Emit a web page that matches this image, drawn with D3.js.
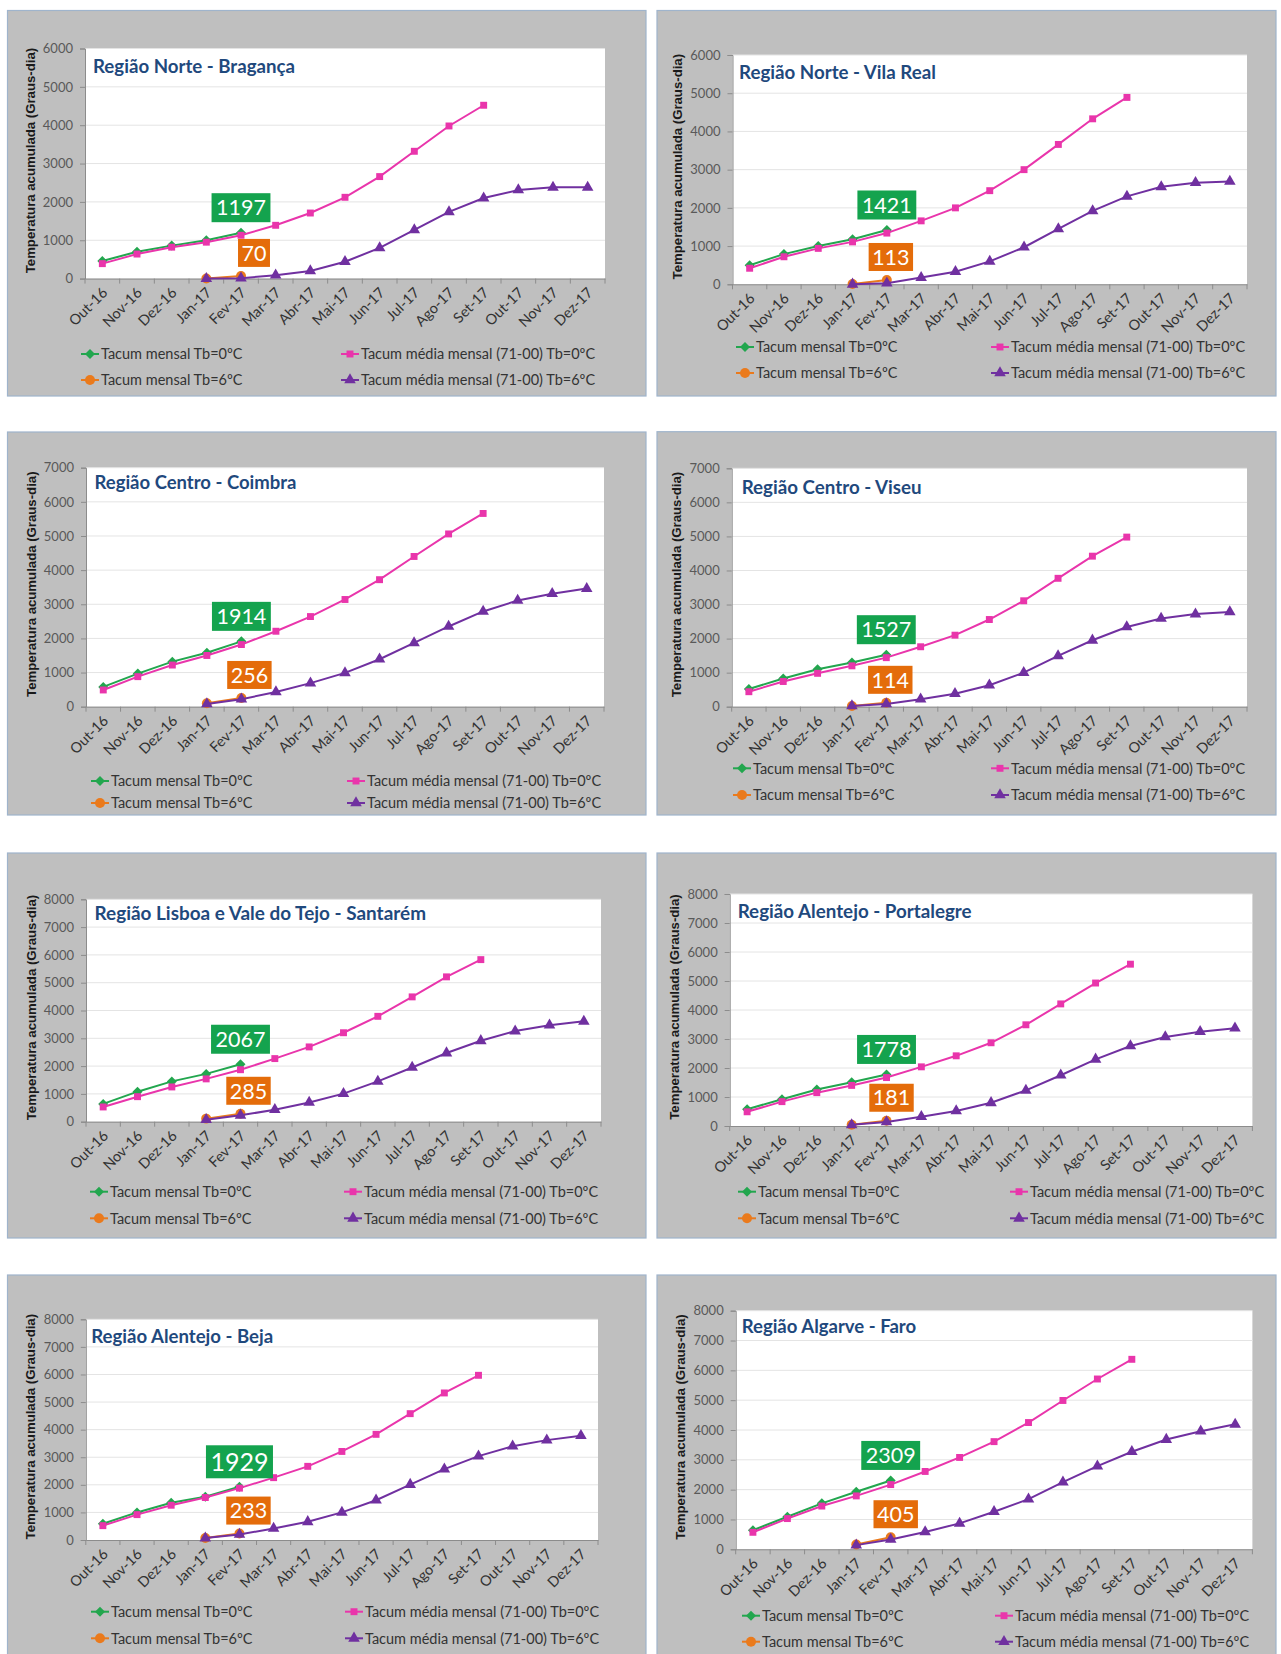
<!DOCTYPE html>
<html><head><meta charset="utf-8">
<script src="https://cdn.jsdelivr.net/npm/d3@7"></script>
<style>body{margin:0;background:#fff} svg{display:block}</style>
</head><body>
<svg id="c" width="1281" height="1654"></svg>
<script>
// ---------------- DATA ----------------
const months = ["Out-16","Nov-16","Dez-16","Jan-17","Fev-17","Mar-17","Abr-17","Mai-17","Jun-17","Jul-17","Ago-17","Set-17","Out-17","Nov-17","Dez-17"];
const regions = ["Região Norte - Bragança","Região Norte - Vila Real","Região Centro - Coimbra","Região Centro - Viseu","Região Lisboa e Vale do Tejo - Santarém","Região Alentejo - Portalegre","Região Alentejo - Beja","Região Algarve - Faro"];
const yMax = [6000,6000,7000,7000,8000,8000,8000,8000];
const yTickStep = 1000;
// Tacum mensal Tb=0ºC  (Out-16 .. Fev-17)
const tacumTb0 = [
  [460,700,860,1000,1197],
  [500,790,1000,1180,1421],
  [580,970,1320,1580,1914],
  [520,830,1100,1300,1527],
  [640,1080,1450,1720,2067],
  [580,920,1260,1510,1778],
  [590,1000,1350,1570,1929],
  [640,1090,1540,1930,2309]
];
// Tacum mensal Tb=6ºC  (Jan-17 .. Fev-17)
const tacumTb6 = [
  [5,70],[10,113],[100,256],[20,114],[110,285],[40,181],[70,233],[160,405]
];
// Tacum média mensal (71-00) Tb=0ºC  (Out-16 .. Set-17)
const mediaTb0 = [
  [390,640,820,950,1130,1390,1710,2120,2660,3320,3980,4520],
  [420,720,940,1110,1340,1660,2000,2450,3000,3660,4330,4890],
  [490,880,1220,1500,1820,2210,2640,3140,3720,4400,5060,5660],
  [440,740,980,1200,1440,1760,2100,2560,3110,3770,4420,4980],
  [530,900,1250,1540,1870,2270,2690,3200,3790,4490,5210,5830],
  [490,840,1150,1400,1670,2040,2420,2870,3490,4210,4930,5580],
  [520,920,1260,1540,1880,2260,2670,3210,3830,4580,5330,5970],
  [570,1030,1450,1790,2170,2610,3080,3610,4250,4990,5710,6370]
];
// Tacum média mensal (71-00) Tb=6ºC  (Jan-17 .. Dez-17)
const mediaTb6 = [
  [0,10,90,200,440,800,1270,1740,2100,2310,2380,2380],
  [0,30,175,330,600,970,1450,1920,2300,2550,2660,2690],
  [80,220,430,690,990,1390,1870,2350,2790,3110,3310,3460],
  [20,80,220,380,630,1000,1490,1950,2340,2590,2720,2780],
  [70,230,430,690,1010,1450,1950,2470,2910,3260,3470,3610],
  [40,140,320,520,800,1230,1750,2300,2760,3070,3250,3370],
  [70,200,420,660,1000,1440,2010,2570,3040,3400,3620,3780],
  [140,330,580,870,1260,1680,2250,2790,3270,3680,3960,4190]
];
const seriesStart = {tb0:0, tb6:3, m0:0, m6:3};
const legendLabels = ["Tacum mensal Tb=0ºC","Tacum média mensal (71-00) Tb=0ºC","Tacum mensal Tb=6ºC","Tacum média mensal (71-00) Tb=6ºC"];
const yTitle = "Temperatura acumulada (Graus-dia)";

// ---------------- LAYOUT / STYLE ----------------
const L = [
 {g:[7.5,10.5,646,396], p:[85,605,48.5,278.6], t:[93,66,202], leg:[354,380], sx:[90,350], odx:13, big:false},
 {g:[657,10.5,1276,396], p:[732.5,1247,55,284.3], t:[739,72,197], leg:[347,373], sx:[745,1000], odx:4, big:false},
 {g:[7.5,432,646,815], p:[86,604,467.7,706.7], t:[94.5,482,202], leg:[781,803], sx:[100,356], odx:8, big:false},
 {g:[657,431.7,1276,815], p:[731.7,1247,468.3,706.7], t:[741.7,487.7,180], leg:[768.3,795], sx:[742,1000], odx:4, big:false},
 {g:[7.5,853,646,1238], p:[86,601,899.3,1121.7], t:[94.5,912.7,331.6], leg:[1191.7,1218.3], sx:[99,353], odx:8, big:false},
 {g:[657,853,1276,1238], p:[729.7,1252.4,894,1126], t:[737.7,911.7,234], leg:[1191.7,1218.3], sx:[747,1019], odx:5, big:false},
 {g:[7.5,1275,646,1665], p:[85.8,598,1319.3,1540], t:[91.2,1336.7,182], leg:[1611.7,1638.3], sx:[100,354], odx:9, big:true},
 {g:[657,1275,1276,1665], p:[735.7,1252.4,1310.7,1549.3], t:[741.7,1326,174.6], leg:[1615.7,1641.7], sx:[751,1004], odx:5, big:false}
];
const C = {green:"#22a64e", pink:"#e935ab", orange:"#ea7a1c", purple:"#7030a0",
           greenBox:"#14a34e", orangeBox:"#e46c0a", bg:"#bfbfbf", border:"#9fb4cc",
           grid:"#e4e4e4", axis:"#8c8c8c", tick:"#595959", text:"#333333", title:"#1f497d"};
const FONT = "Lato, 'Open Sans', sans-serif";

const svg = d3.select("#c");

function marker(sel, type, color){
  if(type==="diamond") sel.attr("d", d3.symbol(d3.symbolSquare, 50)()).attr("fill",color);
  else if(type==="square") sel.attr("d", d3.symbol(d3.symbolSquare, 48)()).attr("fill",color);
  else if(type==="circle") sel.attr("d", d3.symbol(d3.symbolCircle, 78)()).attr("fill",color);
  else sel.attr("d", d3.symbol(d3.symbolTriangle, 58)()).attr("fill",color);
}

regions.forEach((name, i) => {
  const lay = L[i];
  const [gx0, gy0, gx1, gy1] = lay.g;
  const [px0, px1, py0, py1] = lay.p;
  const G = svg.append("g");

  G.append("rect").attr("x",gx0).attr("y",gy0).attr("width",gx1-gx0).attr("height",gy1-gy0)
    .attr("fill",C.bg).attr("stroke",C.border).attr("stroke-width",1.2);

  const x = d3.scaleBand().domain(months).range([px0, px1]);
  const y = d3.scaleLinear().domain([0, yMax[i]]).range([py1, py0]);
  const cx = m => x(m) + x.bandwidth()/2;

  G.append("rect").attr("x",px0).attr("y",py0).attr("width",px1-px0).attr("height",py1-py0).attr("fill","#fff");

  const ticks = d3.range(0, yMax[i]+1, yTickStep);
  G.append("g").selectAll("line").data(ticks.slice(1)).join("line")
    .attr("x1",px0).attr("x2",px1).attr("y1",d=>y(d)).attr("y2",d=>y(d))
    .attr("stroke",C.grid).attr("stroke-width",1);

  // y axis
  const ya = G.append("g").attr("transform",`translate(${px0},0)`)
    .call(d3.axisLeft(y).tickValues(ticks).tickSize(5).tickPadding(7).tickFormat(d3.format("d")));
  ya.select(".domain").attr("stroke",C.axis);
  ya.selectAll(".tick line").attr("stroke",C.axis);
  ya.selectAll("text").attr("fill",C.tick).style("font-family",FONT).style("font-size","13px");

  // x axis
  const xa = G.append("g").attr("transform",`translate(0,${py1})`)
    .call(d3.axisBottom(x).tickSize(0).tickPadding(0));
  xa.select(".domain").attr("stroke",C.axis);
  xa.selectAll("text").attr("x",0).attr("y",0).attr("dy",0)
    .attr("text-anchor","end").attr("transform","translate(6,15) rotate(-45)")
    .attr("fill",C.text).style("font-family",FONT).style("font-size","14.5px");
  const bounds = months.map(m => x(m)).concat([x(months[months.length-1]) + x.step()]);
  xa.append("g").selectAll("line").data(bounds).join("line")
    .attr("x1",d=>d).attr("x2",d=>d).attr("y1",0).attr("y2",5).attr("stroke",C.axis);

  // y title
  G.append("text").attr("transform",`translate(${px0-55},${(py0+py1)/2 - 3}) rotate(-90)`)
    .attr("text-anchor","middle").attr("dy","0.35em")
    .style("font-family","'Liberation Sans', Arial, sans-serif").style("font-weight","bold").style("font-size","13.2px")
    .attr("fill","#1a1a1a").text(yTitle);

  // title
  const tt = G.append("text").attr("x",lay.t[0]).attr("y",lay.t[1]).attr("dy","0.36em")
    .style("font-family",FONT).style("font-weight","bold").style("font-size","19px")
    .attr("fill",C.title).text(name);
  const tl = tt.node().getComputedTextLength();
  tt.style("font-size", (19*lay.t[2]/tl).toFixed(2)+"px");

  // series
  const mk = (arr, start) => arr.map((v,k)=>({m:months[start+k], v}));
  const S = [
    {d:mk(tacumTb0[i],seriesStart.tb0), c:C.green, t:"diamond"},
    {d:mk(mediaTb0[i],seriesStart.m0), c:C.pink, t:"square"},
    {d:mk(tacumTb6[i],seriesStart.tb6), c:C.orange, t:"circle"},
    {d:mk(mediaTb6[i],seriesStart.m6), c:C.purple, t:"triangle"}
  ];
  const line = d3.line().x(d=>cx(d.m)).y(d=>y(d.v));
  S.forEach(s => {
    G.append("path").attr("d",line(s.d)).attr("fill","none").attr("stroke",s.c).attr("stroke-width",2);
    G.append("g").selectAll("path").data(s.d).join("path")
      .attr("transform",d=>`translate(${cx(d.m)},${y(d.v)})${s.t==="diamond"?" rotate(45)":""}`)
      .call(sel=>marker(sel,s.t,s.c));
  });

  // data labels (last value of the observed series)
  const gLast = S[0].d[S[0].d.length-1];
  const oLast = S[2].d[S[2].d.length-1];
  function box(px, py, val, fill, fs, padX, h){
    const t = G.append("text").attr("x",px).attr("y",py).attr("dy","0.36em").attr("text-anchor","middle")
      .style("font-family",FONT).style("font-size",fs+"px").attr("fill","#fff").text(val);
    const w = t.node().getComputedTextLength() + padX;
    G.insert("rect", () => t.node()).attr("x",px-w/2).attr("y",py-h/2).attr("width",w).attr("height",h).attr("fill",fill);
  }
  box(cx(gLast.m), y(gLast.v)-25, gLast.v, C.greenBox, lay.big?25:21.5, 9, lay.big?33:29);
  box(cx(oLast.m)+lay.odx, y(oLast.v)-23, oLast.v, C.orangeBox, 21.5, 7, 28);

  // legend
  const legPos = [[lay.sx[0],lay.leg[0]],[lay.sx[1],lay.leg[0]],[lay.sx[0],lay.leg[1]],[lay.sx[1],lay.leg[1]]];
  S.forEach((s,k) => {
    const [lx, ly] = legPos[k];
    G.append("line").attr("x1",lx-9).attr("x2",lx+9).attr("y1",ly).attr("y2",ly).attr("stroke",s.c).attr("stroke-width",2);
    G.append("path").attr("transform",`translate(${lx},${ly})${s.t==="diamond"?" rotate(45)":""}`).call(sel=>marker(sel,s.t,s.c));
    G.append("text").attr("x",lx+11).attr("y",ly).attr("dy","0.36em")
      .style("font-family",FONT).style("font-size","14.5px").attr("fill",C.text).text(legendLabels[k]);
  });
});
</script>
</body></html>
